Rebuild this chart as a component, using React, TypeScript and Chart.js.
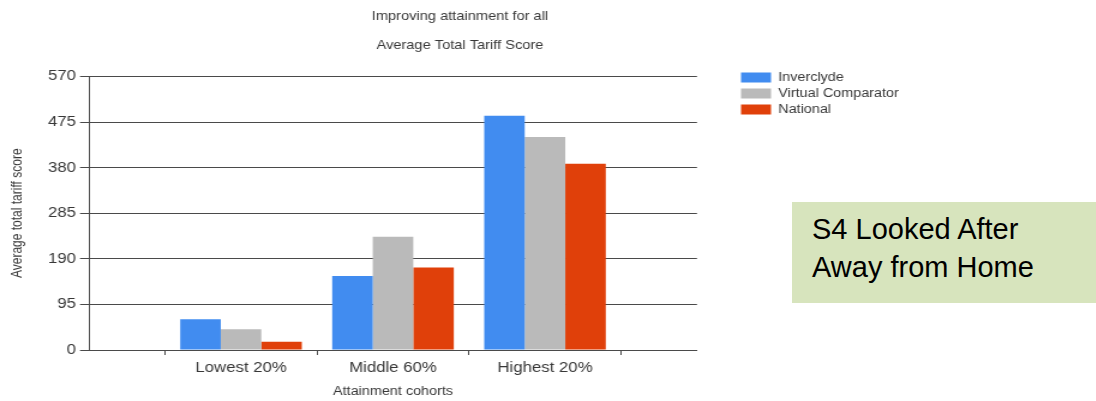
import { useEffect, useRef } from 'react';
import { Chart, registerables } from 'chart.js';

Chart.register(...registerables);

// ---- data ----
const cohorts = ['Lowest 20%', 'Middle 60%', 'Highest 20%'];
const seriesNames = ['Inverclyde', 'Virtual Comparator', 'National'];
const inverclyde = [64, 154, 488];
const virtualComparator = [43, 236, 444];
const national = [17, 172, 388];
const yTicks = [0, 95, 190, 285, 380, 475, 570];

const chartTitle = 'Improving attainment for all';
const chartSubtitle = 'Average Total Tariff Score';
const xAxisTitle = 'Attainment cohorts';
const yAxisTitle = 'Average total tariff score';
const noteLines = ['S4 Looked After', 'Away from Home'];

// ---- styling ----
const FAMILY = "'Liberation Sans', Arial, sans-serif";
const COLORS = ['#418CF0', '#BABABA', '#E0400A'];
const TEXT = '#383838';
const LINE = '#4a4a4a';
const STRETCH = 1.2; // horizontal stretch of the original picture
const CW = 910;
const CH = 401;

const legendPlace = {
  id: 'legendPlace',
  afterLayout(chart: any) {
    const lg = chart.legend;
    if (!lg) return;
    const w = lg.width;
    const h = lg.height;
    lg.left = 613.5;
    lg.right = lg.left + w;
    lg.top = lg.top - 9;
    lg.bottom = lg.top + h;
  },
};

export default function App() {
  const ref = useRef<HTMLCanvasElement | null>(null);

  useEffect(() => {
    if (!ref.current) return;
    const pad = (arr: number[]) => [null, ...arr, null];
    const labels = ['', ...cohorts, ''];
    const series = [inverclyde, virtualComparator, national];

    const chart = new Chart(ref.current, {
      type: 'bar',
      data: {
        labels,
        datasets: series.map((s, i) => ({
          label: seriesNames[i],
          data: pad(s),
          backgroundColor: COLORS[i],
          borderWidth: 0,
          categoryPercentage: 0.8,
          barPercentage: 1.0,
        })),
      },
      plugins: [legendPlace],
      options: {
        responsive: false,
        animation: false,
        events: [],
        layout: { padding: { left: 0, right: 143.4, top: 0, bottom: 0 } },
        plugins: {
          tooltip: { enabled: false },
          title: {
            display: true,
            text: chartTitle,
            color: TEXT,
            font: { family: FAMILY, size: 12.2, weight: 'normal' },
            padding: { top: 9.8, bottom: 0 },
          },
          subtitle: {
            display: true,
            text: chartSubtitle,
            color: TEXT,
            font: { family: FAMILY, size: 12.2, weight: 'normal' },
            padding: { top: 13.6, bottom: 23.8 },
          },
          legend: {
            display: true,
            position: 'right',
            align: 'start',
            fullSize: false,
            maxWidth: 140,
            labels: {
              boxWidth: 25,
              boxHeight: 10,
              padding: 4,
              color: TEXT,
              font: { family: FAMILY, size: 12 },
            },
          },
        },
        scales: {
          x: {
            type: 'category',
            offset: false,
            grid: {
              display: true,
              drawOnChartArea: false,
              drawTicks: true,
              tickLength: 5,
              offset: true,
              color: LINE,
            },
            border: { display: true, color: LINE },
            ticks: {
              autoSkip: false,
              maxRotation: 0,
              padding: 4.6,
              color: TEXT,
              font: { family: FAMILY, size: 14 },
            },
            title: {
              display: true,
              text: xAxisTitle,
              color: TEXT,
              font: { family: FAMILY, size: 12 },
              padding: { top: 3.8, bottom: 1.8 },
            },
            afterFit: (s: any) => {
              s.height = 51;
            },
          },
          y: {
            min: yTicks[0],
            max: yTicks[yTicks.length - 1],
            ticks: {
              stepSize: yTicks[1] - yTicks[0],
              padding: 3.3,
              color: TEXT,
              font: { family: FAMILY, size: 14 },
            },
            grid: { color: LINE, lineWidth: 1, drawTicks: true, tickLength: 7.5 },
            border: { display: true, color: LINE },
            title: {
              display: true,
              text: yAxisTitle,
              color: TEXT,
              font: { family: FAMILY, size: 12 },
              padding: { top: 7.8, bottom: 0 },
            },
            afterFit: (s: any) => {
              s.width = 74.17;
            },
          },
          gap: {
            type: 'linear',
            position: 'right',
            display: true,
            grid: { display: false, drawTicks: false },
            border: { display: false },
            ticks: { display: false },
            afterFit: (s: any) => {
              s.width = 45.8;
            },
          },
        },
      } as any,
    });
    return () => chart.destroy();
  }, []);

  return (
    <div
      style={{
        position: 'absolute',
        left: 0,
        top: 0,
        width: 1096,
        height: 401,
        overflow: 'hidden',
        background: '#ffffff',
      }}
    >
      <canvas
        ref={ref}
        width={CW}
        height={CH}
        style={{ width: `${CW * STRETCH}px`, height: `${CH}px`, display: 'block' }}
      />
      <div
        style={{
          position: 'absolute',
          left: 792,
          top: 202,
          width: 304,
          height: 101,
          boxSizing: 'border-box',
          background: '#D7E4BD',
          padding: '8px 0 0 20px',
          fontFamily: FAMILY,
          fontSize: 29,
          lineHeight: '38px',
          color: '#000',
        }}
      >
        {noteLines.map((t) => (
          <div key={t}>{t}</div>
        ))}
      </div>
    </div>
  );
}
